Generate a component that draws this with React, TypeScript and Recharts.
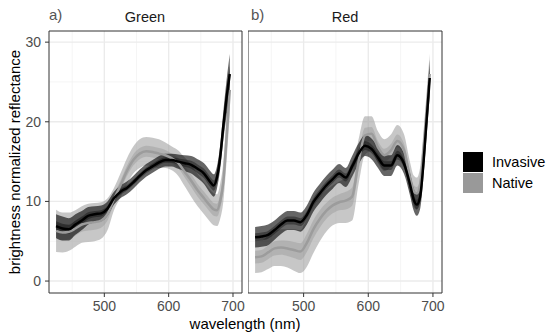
import {
  Area,
  CartesianGrid,
  ComposedChart,
  Line,
  ReferenceArea,
  XAxis,
  YAxis,
} from "recharts";

const wavelengths = [
  425, 435, 445, 455, 465, 475, 485, 495, 505, 515, 525, 535, 545, 555, 565,
  575, 585, 595, 605, 615, 625, 635, 645, 655, 665, 670, 675, 680, 685, 690, 695,
];

// Green facet
const greenInvasiveMean = [
  6.9, 6.6, 6.5, 7.1, 7.6, 8.2, 8.4, 8.5, 9.1, 10.4, 11.2, 11.7, 12.4, 13.2,
  13.9, 14.4, 14.9, 15.2, 15.2, 15.0, 14.8, 14.6, 14.1, 13.5, 12.4, 12.0, 13.0,
  15.5, 19.5, 23.0, 26.0,
];
const greenInvasiveSd = [
  1.5, 1.5, 1.4, 1.3, 1.2, 1.1, 1.0, 1.0, 0.9, 0.8, 0.8, 0.8, 0.8, 0.8, 0.8,
  0.8, 0.8, 0.8, 0.8, 0.9, 1.0, 1.1, 1.2, 1.3, 1.4, 1.4, 1.4, 1.5, 1.8, 2.2, 2.5,
];
const greenInvasiveSe = [
  0.6, 0.6, 0.55, 0.5, 0.5, 0.45, 0.4, 0.4, 0.35, 0.35, 0.35, 0.35, 0.35, 0.35,
  0.35, 0.35, 0.35, 0.35, 0.35, 0.4, 0.45, 0.5, 0.55, 0.6, 0.65, 0.65, 0.65,
  0.7, 0.8, 1.0, 1.1,
];
const greenNativeMean = [
  6.3, 6.1, 6.2, 6.6, 7.1, 7.3, 7.4, 7.6, 8.4, 10.3, 12.0, 13.8, 15.2, 16.0,
  16.3, 16.2, 16.0, 15.8, 15.4, 14.8, 13.7, 12.6, 11.4, 10.4, 9.4, 9.0, 8.9,
  10.0, 12.5, 18.0, 24.0,
];
const greenNativeSd = [
  2.65, 2.5, 2.4, 2.3, 2.3, 2.4, 2.4, 2.3, 2.0, 1.4, 1.5, 1.6, 1.7, 1.8, 1.8,
  1.8, 1.8, 1.6, 1.5, 1.6, 1.8, 2.0, 2.0, 2.0, 2.0, 2.0, 2.0, 2.2, 2.5, 3.0, 3.0,
];
const greenNativeSe = [
  1.0, 1.0, 0.95, 0.9, 0.9, 0.95, 0.95, 0.9, 0.8, 0.6, 0.6, 0.65, 0.7, 0.7,
  0.7, 0.7, 0.7, 0.65, 0.6, 0.65, 0.7, 0.8, 0.8, 0.8, 0.8, 0.8, 0.8, 0.9, 1.0,
  1.2, 1.2,
];

// Red facet
const redInvasiveMean = [
  5.5, 5.6, 5.8, 6.4, 7.1, 7.6, 7.6, 7.4, 8.3, 9.9, 11.0, 12.0, 12.8, 13.5,
  13.0, 14.4, 16.0, 17.0, 16.6, 15.5, 14.5, 14.5, 15.8, 14.8, 12.0, 10.3, 9.6,
  10.5, 14.5, 20.0, 25.5,
];
const redInvasiveSd = [
  1.3, 1.3, 1.3, 1.2, 1.2, 1.2, 1.2, 1.2, 1.2, 1.2, 1.2, 1.2, 1.2, 1.2, 1.2,
  1.3, 1.3, 1.3, 1.3, 1.3, 1.3, 1.3, 1.3, 1.3, 1.4, 1.4, 1.4, 1.5, 1.8, 2.0, 2.3,
];
const redInvasiveSe = [
  0.5, 0.5, 0.5, 0.5, 0.5, 0.5, 0.5, 0.5, 0.5, 0.5, 0.5, 0.5, 0.5, 0.5, 0.5,
  0.55, 0.55, 0.55, 0.55, 0.55, 0.55, 0.55, 0.55, 0.55, 0.6, 0.6, 0.6, 0.65,
  0.75, 0.85, 0.95,
];
const redNativeMean = [
  3.0, 3.1, 3.6, 4.1, 4.2, 4.1, 3.9, 3.7, 4.8, 6.5, 7.8, 8.8, 9.5, 9.9, 10.1,
  10.6, 15.0, 18.3, 18.5, 16.8, 15.8, 16.4, 17.6, 16.5, 12.8, 11.3, 11.0, 12.0,
  16.0, 21.0, 26.0,
];
const redNativeSd = [
  2.0, 2.0, 2.1, 2.2, 2.3, 2.4, 2.6, 2.7, 3.0, 3.0, 2.8, 2.6, 2.5, 2.6, 2.8,
  3.0, 2.8, 2.4, 2.2, 2.0, 2.0, 2.0, 2.0, 2.0, 2.0, 2.0, 2.0, 2.2, 2.4, 2.5, 2.5,
];
const redNativeSe = [
  0.8, 0.8, 0.85, 0.9, 0.9, 0.95, 1.0, 1.05, 1.15, 1.15, 1.1, 1.0, 1.0, 1.0,
  1.1, 1.15, 1.1, 0.95, 0.85, 0.8, 0.8, 0.8, 0.8, 0.8, 0.8, 0.8, 0.8, 0.85,
  0.95, 1.0, 1.0,
];

const xTicks = [500, 600, 700];
const xMinor = [450, 550, 650];
const yTicks = [0, 10, 20, 30];
const yMinor = [5, 15, 25];

const X_DOMAIN: [number, number] = [414, 714];
const Y_DOMAIN: [number, number] = [-1.5, 31.4];

type Group = { mean: number[]; sd: number[]; se: number[] };

function buildRows(inv: Group, nat: Group) {
  return wavelengths.map((w, i) => ({
    w,
    invMean: inv.mean[i],
    invOuter: [inv.mean[i] - inv.sd[i], inv.mean[i] + inv.sd[i]],
    invInner: [inv.mean[i] - inv.se[i], inv.mean[i] + inv.se[i]],
    natMean: nat.mean[i],
    natOuter: [nat.mean[i] - nat.sd[i], nat.mean[i] + nat.sd[i]],
    natInner: [nat.mean[i] - nat.se[i], nat.mean[i] + nat.se[i]],
  }));
}

const greenRows = buildRows(
  { mean: greenInvasiveMean, sd: greenInvasiveSd, se: greenInvasiveSe },
  { mean: greenNativeMean, sd: greenNativeSd, se: greenNativeSe }
);
const redRows = buildRows(
  { mean: redInvasiveMean, sd: redInvasiveSd, se: redInvasiveSe },
  { mean: redNativeMean, sd: redNativeSd, se: redNativeSe }
);

const FONT = "'Liberation Sans', Arial, sans-serif";

function Panel({
  rows,
  left,
  width,
  showY,
}: {
  rows: ReturnType<typeof buildRows>;
  left: number;
  width: number;
  showY: boolean;
}) {
  // extra 20px on the right so the "700" tick label is not clipped
  return (
    <div style={{ position: "absolute", left, top: 0 }}>
      <ComposedChart
        width={width + 20}
        height={335}
        data={rows}
        margin={{ top: 31, right: 20, bottom: 0, left: 0 }}
      >
        <CartesianGrid
          verticalValues={xMinor}
          horizontalValues={yMinor}
          stroke="#f2f2f2"
          strokeWidth={0.8}
        />
        <CartesianGrid
          verticalValues={xTicks}
          horizontalValues={yTicks}
          stroke="#ebebeb"
          strokeWidth={1.4}
        />
        <XAxis
          type="number"
          dataKey="w"
          domain={X_DOMAIN}
          ticks={xTicks}
          interval={0}
          allowDataOverflow
          height={42}
          axisLine={false}
          tickSize={4}
          tickMargin={4}
          tickLine={{ stroke: "#333" }}
          tick={{ fill: "#4d4d4d", fontSize: 14, fontFamily: FONT }}
        />
        <YAxis
          type="number"
          domain={Y_DOMAIN}
          ticks={yTicks}
          interval={0}
          allowDataOverflow
          hide={!showY}
          width={49}
          axisLine={false}
          tickSize={4}
          tickMargin={4}
          tickLine={{ stroke: "#333" }}
          tick={{ fill: "#4d4d4d", fontSize: 14, fontFamily: FONT }}
        />
        <Area
          type="monotone"
          dataKey="natOuter"
          fill="#999999"
          fillOpacity={0.55}
          stroke="none"
          dot={false}
          activeDot={false}
          isAnimationActive={false}
        />
        <Area
          type="monotone"
          dataKey="natInner"
          fill="#999999"
          fillOpacity={0.45}
          stroke="none"
          dot={false}
          activeDot={false}
          isAnimationActive={false}
        />
        <Line
          type="monotone"
          dataKey="natMean"
          stroke="#9c9c9c"
          strokeWidth={2.5}
          dot={false}
          activeDot={false}
          isAnimationActive={false}
        />
        <Area
          type="monotone"
          dataKey="invOuter"
          fill="#000000"
          fillOpacity={0.6}
          stroke="none"
          dot={false}
          activeDot={false}
          isAnimationActive={false}
        />
        <Area
          type="monotone"
          dataKey="invInner"
          fill="#000000"
          fillOpacity={0.35}
          stroke="none"
          dot={false}
          activeDot={false}
          isAnimationActive={false}
        />
        <Line
          type="monotone"
          dataKey="invMean"
          stroke="#000000"
          strokeWidth={2.5}
          dot={false}
          activeDot={false}
          isAnimationActive={false}
        />
        <ReferenceArea
          x1={X_DOMAIN[0]}
          x2={X_DOMAIN[1]}
          y1={Y_DOMAIN[0]}
          y2={Y_DOMAIN[1]}
          fill="none"
          stroke="#333333"
          strokeWidth={1}
          ifOverflow="visible"
        />
      </ComposedChart>
    </div>
  );
}

const textBase = { position: "absolute" as const, fontFamily: FONT, whiteSpace: "nowrap" as const };

export default function App() {
  return (
    <div
      style={{
        position: "absolute",
        left: 0,
        top: 0,
        width: 550,
        height: 335,
        background: "#fff",
        overflow: "hidden",
        fontFamily: FONT,
      }}
    >
      <Panel rows={greenRows} left={0} width={242} showY />
      <Panel rows={redRows} left={248} width={194} showY={false} />

      <div style={{ ...textBase, left: 49, top: 0, fontSize: 15, lineHeight: "30px", color: "#555" }}>a)</div>
      <div style={{ ...textBase, left: 251, top: 0, fontSize: 15, lineHeight: "30px", color: "#555" }}>b)</div>
      <div style={{ ...textBase, left: 49, width: 192, top: 8, fontSize: 14.5, lineHeight: "19px", textAlign: "center", color: "#1a1a1a" }}>
        Green
      </div>
      <div style={{ ...textBase, left: 248, width: 194, top: 8, fontSize: 14.5, lineHeight: "19px", textAlign: "center", color: "#1a1a1a" }}>
        Red
      </div>

      <div
        style={{
          ...textBase,
          left: 15 - 150,
          top: 162 - 10,
          width: 300,
          height: 20,
          lineHeight: "20px",
          fontSize: 15,
          textAlign: "center",
          transform: "rotate(-90deg)",
          color: "#000",
        }}
      >
        brightness normalized reflectance
      </div>
      <div style={{ ...textBase, left: 145, width: 200, top: 315, fontSize: 15, lineHeight: "17px", textAlign: "center", color: "#000" }}>
        wavelength (nm)
      </div>

      <div style={{ position: "absolute", left: 463, top: 152, width: 20, height: 20, background: "#000" }} />
      <div style={{ position: "absolute", left: 463, top: 173, width: 20, height: 20, background: "#999" }} />
      <div style={{ ...textBase, left: 492, top: 152, fontSize: 14.5, lineHeight: "20px", color: "#000" }}>Invasive</div>
      <div style={{ ...textBase, left: 492, top: 173, fontSize: 14.5, lineHeight: "20px", color: "#000" }}>Native</div>
    </div>
  );
}
